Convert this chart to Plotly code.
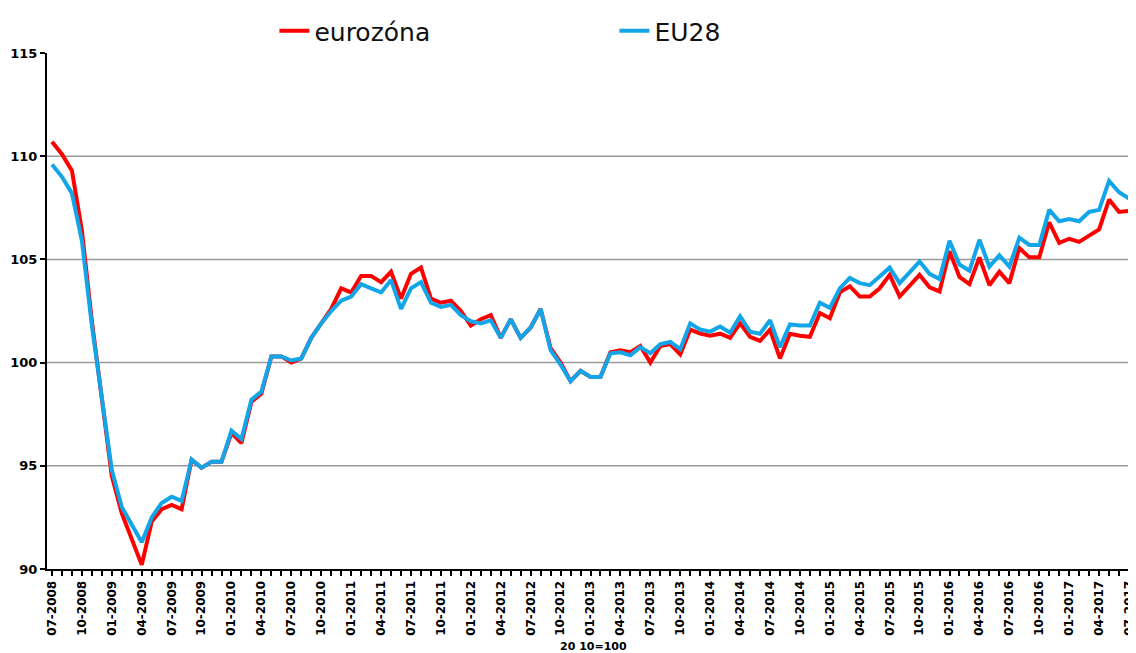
import plotly.graph_objects as go

# monthly index, 2010 = 100, from 07-2008 to 07-2017
start_year, start_month, n_months = 2008, 7, 109
months = []
y, m = start_year, start_month
for _ in range(n_months):
    months.append(f"{m:02d}-{y}")
    m += 1
    if m > 12:
        m, y = 1, y + 1

eurozona = [
    110.7, 110.1, 109.3, 106.4, 102.0, 98.3, 94.5, 92.7, 91.5, 90.2,
    92.3, 92.9, 93.1, 92.9, 95.3, 94.9, 95.2, 95.2, 96.6, 96.1,
    98.1, 98.5, 100.3, 100.3, 100.0, 100.2, 101.2, 101.9, 102.6, 103.6,
    103.4, 104.2, 104.2, 103.9, 104.4, 103.1, 104.3, 104.6, 103.1, 102.9,
    103.0, 102.5, 101.8, 102.1, 102.3, 101.2, 102.1, 101.2, 101.7, 102.6,
    100.7, 100.0, 99.1, 99.6, 99.3, 99.3, 100.5, 100.6, 100.5, 100.8,
    100.0, 100.8, 100.9, 100.4, 101.6, 101.4, 101.3, 101.4, 101.2, 101.9,
    101.25, 101.05, 101.6, 100.2, 101.4, 101.3, 101.25, 102.4, 102.15, 103.4,
    103.7, 103.2, 103.2, 103.6, 104.25, 103.2, 103.7, 104.25, 103.65, 103.45,
    105.4, 104.15, 103.8, 105.1, 103.75, 104.4, 103.85, 105.55, 105.1, 105.1,
    106.8, 105.8, 106.0, 105.85, 106.15, 106.45, 107.9, 107.3, 107.35,
]

eu28 = [
    109.6, 109.0, 108.2, 105.9, 101.8, 98.4, 94.8, 93.0, 92.1, 91.3,
    92.5, 93.2, 93.5, 93.3, 95.3, 94.9, 95.2, 95.2, 96.7, 96.3,
    98.2, 98.6, 100.3, 100.3, 100.1, 100.2, 101.2, 101.9, 102.5, 103.0,
    103.2, 103.8, 103.6, 103.4, 104.0, 102.6, 103.6, 103.9, 102.9, 102.7,
    102.8, 102.3, 102.0, 101.9, 102.05, 101.2, 102.1, 101.2, 101.7, 102.6,
    100.6, 99.9, 99.1, 99.6, 99.3, 99.3, 100.45, 100.5, 100.35, 100.75,
    100.45, 100.9, 101.0, 100.65, 101.9, 101.6, 101.5, 101.75, 101.45, 102.25,
    101.5, 101.4, 102.05, 100.75, 101.85, 101.8, 101.8, 102.9, 102.65, 103.6,
    104.1, 103.85, 103.75, 104.2, 104.6, 103.85, 104.35, 104.9, 104.3, 104.05,
    105.9, 104.75, 104.45, 105.95, 104.65, 105.2, 104.65, 106.05, 105.7, 105.7,
    107.4, 106.85, 106.95, 106.85, 107.3, 107.4, 108.8, 108.25, 107.95,
]

y_ticks = [90, 95, 100, 105, 110, 115]
grid_values = [95, 100, 105, 110]
caption = "20 10=100"

x_idx = list(range(len(months)))
tick_text = [lab if i % 3 == 0 else "" for i, lab in enumerate(months)]

fig = go.Figure()
fig.add_trace(go.Scatter(x=x_idx, y=eurozona, mode="lines", name="eurozóna",
                         line=dict(color="#FF0000", width=4)))
fig.add_trace(go.Scatter(x=x_idx, y=eu28, mode="lines", name="EU28",
                         line=dict(color="#12A6E8", width=4)))

for g in grid_values:
    fig.add_shape(type="line", xref="paper", x0=0, x1=1, yref="y", y0=g, y1=g,
                  line=dict(color="#9A9A9A", width=1.5), layer="below")

# page body has an 8px margin: size the figure so the visible window matches
fig.update_layout(
    width=1128, height=645,
    margin=dict(l=39, r=0, t=44, b=84),
    paper_bgcolor="white", plot_bgcolor="white",
    showlegend=True,
    legend=dict(orientation="h", x=0.2094, xanchor="left", y=1.0426, yanchor="middle",
                font=dict(family="DejaVu Sans", size=25, color="#111111"),
                entrywidth=295, entrywidthmode="pixels",
                bgcolor="rgba(0,0,0,0)", itemwidth=30),
    xaxis=dict(range=[-0.5, 108.4], tickmode="array", tickvals=x_idx, ticktext=tick_text,
               tickangle=-90, ticks="outside", ticklen=5, tickwidth=1.5, tickcolor="black",
               showline=True, linecolor="black", linewidth=2, showgrid=False, zeroline=False,
               ticklabeloverflow="allow",
               tickfont=dict(family="DejaVu Sans", size=12, color="black", weight="bold")),
    yaxis=dict(range=[90, 115], tickmode="array", tickvals=y_ticks,
               ticks="outside", ticklen=5, tickwidth=1.5, tickcolor="black",
               showline=True, linecolor="black", linewidth=2, showgrid=False, zeroline=False,
               tickfont=dict(family="DejaVu Sans", size=13, color="black", weight="bold")),
    annotations=[dict(text=caption, xref="paper", yref="paper", x=0.503, y=-0.151,
                      xanchor="center", yanchor="middle", showarrow=False,
                      font=dict(family="DejaVu Sans", size=11, color="black", weight="bold"))],
)

fig.write_html("out.html")
